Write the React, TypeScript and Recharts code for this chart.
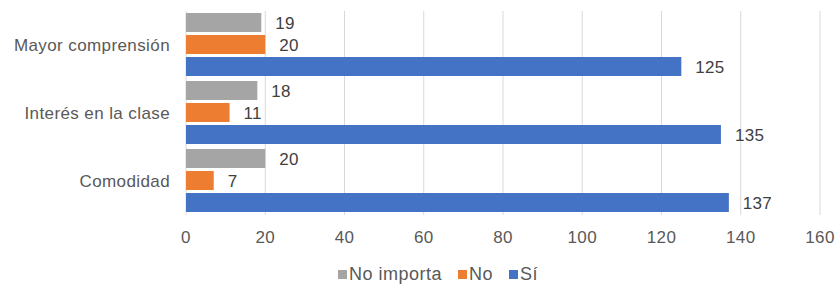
import { Bar, BarChart, CartesianGrid, LabelList, Legend, XAxis, YAxis } from "recharts";

const categories = ["Mayor comprensión", "Interés en la clase", "Comodidad"];
const noImporta = [19, 18, 20];
const no = [20, 11, 7];
const si = [125, 135, 137];
const xTicks = [0, 20, 40, 60, 80, 100, 120, 140, 160];

const series = [
  { key: "noImporta", name: "No importa", color: "#A5A5A5" },
  { key: "no", name: "No", color: "#ED7D31" },
  { key: "si", name: "Sí", color: "#4472C4" },
];

const data = categories.map((name, i) => ({
  name,
  noImporta: noImporta[i],
  no: no[i],
  si: si[i],
}));

const FONT = "'Liberation Sans', Arial, sans-serif";
const txt = { fontSize: 17, fill: "#595959", fontFamily: FONT, letterSpacing: 0.4 };

function renderLegend() {
  return (
    <div
      style={{
        display: "flex",
        justifyContent: "center",
        paddingLeft: 56,
        fontFamily: FONT,
        fontSize: 18,
        letterSpacing: 0.5,
        color: "#595959",
        lineHeight: "22px",
        height: 22,
      }}
    >
      {series.map((s, i) => (
        <span
          key={s.key}
          style={{ display: "inline-flex", alignItems: "center", marginLeft: i === 0 ? 0 : 16 }}
        >
          <span style={{ width: 9, height: 9, background: s.color, marginRight: 2, display: "inline-block" }} />
          {s.name}
        </span>
      ))}
    </div>
  );
}

export default function App() {
  return (
    <div style={{ position: "fixed", left: 0, top: 0, width: 836, height: 285, background: "#fff" }}>
      <BarChart
        width={836}
        height={285}
        data={data}
        layout="vertical"
        margin={{ top: 11, right: 16, left: 0, bottom: 10 }}
        barCategoryGap={2}
        barGap={3}
      >
        <CartesianGrid horizontal={false} stroke="#D9D9D9" />
        <XAxis
          type="number"
          domain={[0, 160]}
          ticks={xTicks}
          axisLine={false}
          tickLine={false}
          tickMargin={10}
          height={38}
          tick={txt}
        />
        <YAxis
          type="category"
          dataKey="name"
          width={186}
          axisLine={false}
          tickLine={false}
          tickMargin={10}
          tick={txt}
        />
        <Legend verticalAlign="bottom" content={renderLegend} wrapperStyle={{ bottom: 0, height: 22 }} />
        {series.map((s) => (
          <Bar key={s.key} dataKey={s.key} name={s.name} fill={s.color} isAnimationActive={false}>
            <LabelList
              dataKey={s.key}
              position="right"
              offset={14}
              style={{ fontSize: 17, fill: "#404040", fontFamily: FONT, letterSpacing: 0.3 }}
            />
          </Bar>
        ))}
      </BarChart>
    </div>
  );
}
